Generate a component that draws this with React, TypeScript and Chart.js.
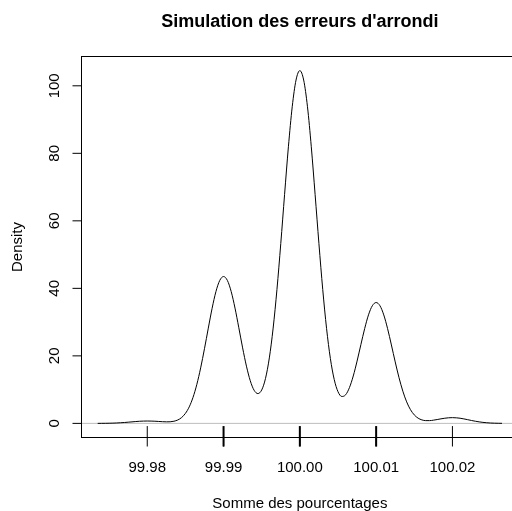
import React, { useEffect, useRef } from "react";
import { Chart, registerables } from "chart.js";

Chart.register(...registerables);

const chartTitle = "Simulation des erreurs d'arrondi";
const xAxisTitle = "Somme des pourcentages";
const yAxisTitle = "Density";

const xTicks = [99.98, 99.99, 100.0, 100.01, 100.02];
const xTickLabels = ["99.98", "99.99", "100.00", "100.01", "100.02"];
const yTicks = [0, 20, 40, 60, 80, 100];
const yTickLabels = ["0", "20", "40", "60", "80", "100"];

// rug of simulated sums
const rugValues = [99.98, 99.99, 100.0, 100.01, 100.02];

// kernel density estimate
const densityX = [
  99.9735, 99.974, 99.9745, 99.975, 99.9755, 99.976, 99.9765, 99.977, 99.9775, 99.978,
  99.9785, 99.979, 99.9795, 99.98, 99.9805, 99.981, 99.9815, 99.982, 99.9825, 99.983,
  99.9835, 99.984, 99.9845, 99.985, 99.9855, 99.986, 99.9865, 99.987, 99.9875, 99.988,
  99.9885, 99.989, 99.9895, 99.99, 99.9905, 99.991, 99.9915, 99.992, 99.9925, 99.993,
  99.9935, 99.994, 99.9945, 99.995, 99.9955, 99.996, 99.9965, 99.997, 99.9975, 99.998,
  99.9985, 99.999, 99.9995, 100.0, 100.0005, 100.001, 100.0015, 100.002, 100.0025, 100.003,
  100.0035, 100.004, 100.0045, 100.005, 100.0055, 100.006, 100.0065, 100.007, 100.0075, 100.008,
  100.0085, 100.009, 100.0095, 100.01, 100.0105, 100.011, 100.0115, 100.012, 100.0125, 100.013,
  100.0135, 100.014, 100.0145, 100.015, 100.0155, 100.016, 100.0165, 100.017, 100.0175, 100.018,
  100.0185, 100.019, 100.0195, 100.02, 100.0205, 100.021, 100.0215, 100.022, 100.0225, 100.023,
  100.0235, 100.024, 100.0245, 100.025, 100.0255, 100.026, 100.0265,
];
const densityY = [
  0.007, 0.014, 0.027, 0.047, 0.078, 0.12, 0.19, 0.26, 0.36, 0.45,
  0.55, 0.63, 0.68, 0.7, 0.68, 0.64, 0.57, 0.5, 0.46, 0.48,
  0.64, 1.01, 1.73, 2.96, 4.89, 7.72, 11.57, 16.44, 22.13, 28.22,
  34.1, 39.04, 42.34, 43.5, 42.35, 39.06, 34.15, 28.33, 22.36, 16.95,
  12.64, 9.83, 8.83, 9.9, 13.34, 19.4, 28.23, 39.69, 53.25, 67.84,
  81.94, 93.79, 101.71, 104.5, 101.71, 93.79, 81.94, 67.83, 53.23, 39.65,
  28.15, 19.24, 13.05, 9.39, 7.97, 8.47, 10.6, 14.04, 18.45, 23.33,
  28.11, 32.15, 34.85, 35.8, 34.85, 32.13, 28.07, 23.23, 18.21, 13.53,
  9.53, 6.37, 4.06, 2.51, 1.55, 1.03, 0.82, 0.82, 0.95, 1.14,
  1.35, 1.53, 1.66, 1.7, 1.65, 1.53, 1.33, 1.1, 0.86, 0.64,
  0.45, 0.3, 0.19, 0.11, 0.064, 0.035, 0.018,
];

const FONT = '"Liberation Sans", Arial, Helvetica, sans-serif';
const CANVAS_W = 530;
const CANVAS_H = 511;

function densityAt(v: number): number {
  let best = 0;
  let bd = Infinity;
  for (let i = 0; i < densityX.length; i++) {
    const d = Math.abs(densityX[i] - v);
    if (d < bd) {
      bd = d;
      best = densityY[i];
    }
  }
  return best;
}

const rPlotPlugin = {
  id: "rPlot",
  beforeDatasetsDraw(chart: any) {
    const { ctx, chartArea: a, scales } = chart;
    const y0 = scales.y.getPixelForValue(0);
    ctx.save();
    ctx.strokeStyle = "#BEBEBE";
    ctx.lineWidth = 1;
    ctx.beginPath();
    ctx.moveTo(a.left, y0);
    ctx.lineTo(a.right, y0);
    ctx.stroke();
    ctx.restore();
  },
  afterDraw(chart: any) {
    const { ctx, chartArea: a, scales } = chart;
    const xs = scales.x;
    const ys = scales.y;
    const tick = 9;
    ctx.save();
    ctx.strokeStyle = "#000";
    ctx.fillStyle = "#000";
    ctx.lineWidth = 1;

    // box
    ctx.strokeRect(a.left, a.top, a.right - a.left, a.bottom - a.top);

    // x axis
    const xa = xs.getPixelForValue(xTicks[0]);
    const xb = xs.getPixelForValue(xTicks[xTicks.length - 1]);
    ctx.beginPath();
    ctx.moveTo(xa, a.bottom);
    ctx.lineTo(xb, a.bottom);
    ctx.stroke();
    ctx.font = `15px ${FONT}`;
    ctx.textAlign = "center";
    ctx.textBaseline = "alphabetic";
    xTicks.forEach((v, i) => {
      const px = xs.getPixelForValue(v);
      ctx.beginPath();
      ctx.moveTo(px, a.bottom);
      ctx.lineTo(px, a.bottom + tick);
      ctx.stroke();
      ctx.fillText(xTickLabels[i], px, a.bottom + 34);
    });

    // y axis
    const ya = ys.getPixelForValue(yTicks[0]);
    const yb = ys.getPixelForValue(yTicks[yTicks.length - 1]);
    ctx.beginPath();
    ctx.moveTo(a.left, ya);
    ctx.lineTo(a.left, yb);
    ctx.stroke();
    yTicks.forEach((v, i) => {
      const py = ys.getPixelForValue(v);
      ctx.beginPath();
      ctx.moveTo(a.left, py);
      ctx.lineTo(a.left - tick, py);
      ctx.stroke();
      ctx.save();
      ctx.translate(a.left - 23, py);
      ctx.rotate(-Math.PI / 2);
      ctx.fillText(yTickLabels[i], 0, 0);
      ctx.restore();
    });

    // rug
    const rugTop = a.bottom - 0.03 * (a.bottom - a.top);
    rugValues.forEach((v) => {
      const px = xs.getPixelForValue(v);
      ctx.lineWidth = densityAt(v) > 5 ? 2 : 1;
      ctx.beginPath();
      ctx.moveTo(px, rugTop);
      ctx.lineTo(px, a.bottom + (densityAt(v) > 5 ? tick : 0));
      ctx.stroke();
    });
    ctx.lineWidth = 1;

    // axis titles
    const cx = (a.left + a.right) / 2;
    const cy = (a.top + a.bottom) / 2;
    ctx.fillText(xAxisTitle, cx, a.bottom + 70);
    ctx.save();
    ctx.translate(a.left - 59.5, cy);
    ctx.rotate(-Math.PI / 2);
    ctx.fillText(yAxisTitle, 0, 0);
    ctx.restore();

    // main title
    ctx.font = `bold 18px ${FONT}`;
    ctx.fillText(chartTitle, cx, 27);
    ctx.restore();
  },
};

export default function App() {
  const canvasRef = useRef<HTMLCanvasElement | null>(null);

  useEffect(() => {
    document.body.style.margin = "0";
    const canvas = canvasRef.current;
    if (!canvas) return;
    const span = densityX[densityX.length - 1] - densityX[0];
    const maxY = Math.max(...densityY);
    const chart = new Chart(canvas, {
      type: "line",
      data: {
        datasets: [
          {
            data: densityX.map((x, i) => ({ x, y: densityY[i] })),
            borderColor: "#000",
            borderWidth: 1,
            pointRadius: 0,
            fill: false,
            cubicInterpolationMode: "monotone",
          },
        ],
      },
      options: {
        animation: false,
        responsive: false,
        maintainAspectRatio: false,
        devicePixelRatio: 1,
        layout: { padding: { left: 81.5, top: 56.5, right: CANVAS_W - 518.2, bottom: CANVAS_H - 437.5 } },
        plugins: {
          legend: { display: false },
          title: { display: false },
          tooltip: { enabled: false },
        },
        events: [],
        scales: {
          x: {
            type: "linear",
            display: false,
            min: densityX[0] - 0.04 * span,
            max: densityX[densityX.length - 1] + 0.04 * span,
          },
          y: {
            type: "linear",
            display: false,
            min: -0.04 * maxY,
            max: 1.04 * maxY,
          },
        },
      },
      plugins: [rPlotPlugin],
    });
    return () => chart.destroy();
  }, []);

  return (
    <div style={{ position: "fixed", left: 0, top: 0, width: 512, height: 511, overflow: "hidden", background: "#fff" }}>
      <canvas ref={canvasRef} width={CANVAS_W} height={CANVAS_H} style={{ display: "block" }} />
    </div>
  );
}
